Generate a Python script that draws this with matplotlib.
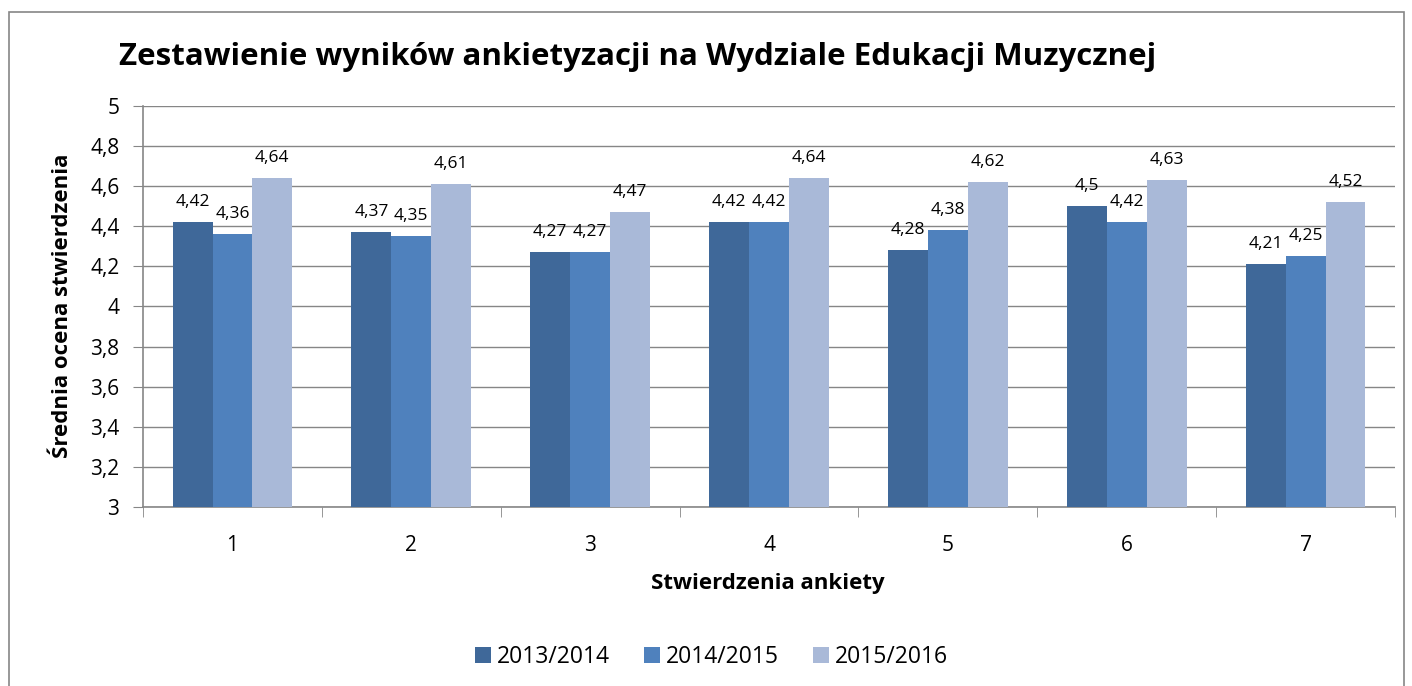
import matplotlib.pyplot as plt
import numpy as np
from matplotlib.ticker import FuncFormatter

plt.rcParams['font.family'] = ['Open Sans', 'DejaVu Sans']

categories = ["1", "2", "3", "4", "5", "6", "7"]
series_names = ["2013/2014", "2014/2015", "2015/2016"]
v2013 = [4.42, 4.37, 4.27, 4.42, 4.28, 4.50, 4.21]
v2014 = [4.36, 4.35, 4.27, 4.42, 4.38, 4.42, 4.25]
v2015 = [4.64, 4.61, 4.47, 4.64, 4.62, 4.63, 4.52]
colors = ["#3F6899", "#4F81BD", "#A9B9D8"]

fig = plt.figure(figsize=(14.12, 6.86), dpi=100)
ax = fig.add_axes([0.1013, 0.261, 0.8867, 0.5845])

# outer frame like the Excel chart area
fig.patches.append(plt.Rectangle((0.0064, -0.01), 0.988, 0.993, transform=fig.transFigure,
                                 fill=False, edgecolor="#868686", linewidth=1.2))

x = np.arange(len(categories))
w = 0.223
for i, (vals, name) in enumerate(zip([v2013, v2014, v2015], series_names)):
    pos = x + (i - 1) * w
    ax.bar(pos, vals, width=w, color=colors[i], label=name, zorder=3)
    for p, v in zip(pos, vals):
        ax.text(p, v + 0.06, f"{v:g}".replace(".", ","), ha="center", va="bottom",
                fontsize=12.5, zorder=4)

ax.set_ylim(3, 5)
ax.set_xlim(-0.5, len(categories) - 0.5)
ax.set_yticks(np.arange(3, 5.01, 0.2))
ax.yaxis.set_major_formatter(FuncFormatter(lambda v, _: f"{v:g}".replace(".", ",")))
ax.set_xticks(x)
ax.set_xticklabels(categories)
ax.set_xticks(np.arange(-0.5, len(categories)), minor=True)
ax.tick_params(axis="x", which="major", length=0, labelsize=15, pad=20)
ax.tick_params(axis="x", which="minor", length=7, color="#868686")
ax.tick_params(axis="y", length=7, color="#868686", labelsize=15, pad=10)
ax.grid(axis="y", color="#868686", linewidth=1, zorder=0)
for s in ["top", "right"]:
    ax.spines[s].set_visible(False)
for s in ["left", "bottom"]:
    ax.spines[s].set_color("#868686")
    ax.spines[s].set_linewidth(1.2)

fig.text(0.4515, 0.917, "Zestawienie wyników ankietyzacji na Wydziale Edukacji Muzycznej",
         ha="center", va="center", fontsize=22.5, fontweight="bold")
fig.text(0.544, 0.150, "Stwierdzenia ankiety", ha="center", va="center",
         fontsize=16, fontweight="bold")
fig.text(0.044, 0.554, "Średnia ocena stwierdzenia", ha="center", va="center",
         rotation=90, fontsize=16, fontweight="bold")

ax.legend(loc="center", bbox_to_anchor=(0.504, 0.042), bbox_transform=fig.transFigure,
          ncol=3, frameon=False, fontsize=16.5, handlelength=0.7, handleheight=0.7,
          handletextpad=0.25, columnspacing=1.5)

fig.savefig("out.png", dpi=100)
